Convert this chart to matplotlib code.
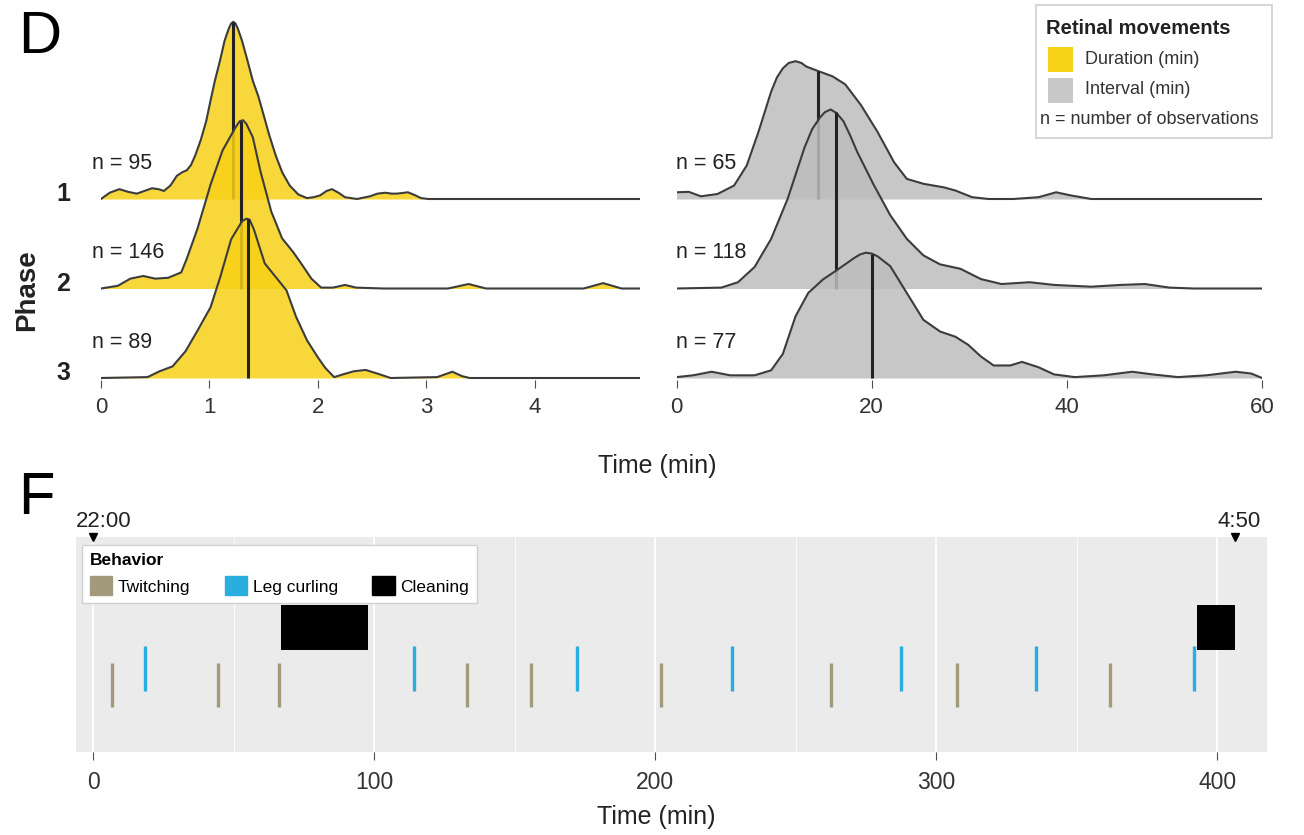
import numpy as np
import matplotlib.pyplot as plt
from matplotlib.patches import Patch, Rectangle

plt.rcParams['font.family'] = ['Liberation Sans', 'DejaVu Sans']

# ---- panel D: retinal movements (ridges) ----
phases = ['1', '2', '3']
n_duration = [95, 146, 89]
n_interval = [65, 118, 77]

# density heights (1.0 = spacing between ridges)
dur1_x = [0.00, 0.08, 0.17, 0.25, 0.33, 0.40, 0.47, 0.53, 0.58, 0.64, 0.70, 0.75, 0.79, 0.83, 0.87,
          0.92, 0.97, 1.01, 1.05, 1.10, 1.14, 1.18, 1.20, 1.22, 1.24, 1.26, 1.30, 1.35, 1.40, 1.45,
          1.49, 1.55, 1.61, 1.67, 1.74, 1.82, 1.90, 1.96, 2.02, 2.08, 2.13, 2.19, 2.25, 2.36, 2.48,
          2.55, 2.62, 2.68, 2.73, 2.83, 2.90, 2.95, 3.02, 4.97]
dur1_h = [0.00, 0.07, 0.11, 0.08, 0.06, 0.09, 0.12, 0.11, 0.09, 0.15, 0.26, 0.30, 0.32, 0.38, 0.49,
          0.66, 0.87, 1.10, 1.32, 1.56, 1.77, 1.91, 1.96, 1.98, 1.96, 1.91, 1.77, 1.55, 1.32, 1.15,
          0.98, 0.72, 0.49, 0.30, 0.15, 0.05, 0.01, 0.02, 0.04, 0.09, 0.11, 0.07, 0.02, 0.00, 0.03,
          0.06, 0.07, 0.06, 0.06, 0.075, 0.04, 0.01, 0.00, 0.00]

dur2_x = [0.00, 0.155, 0.27, 0.39, 0.50, 0.62, 0.74, 0.79, 0.89, 1.01, 1.12, 1.24, 1.28, 1.31, 1.34,
          1.40, 1.47, 1.57, 1.67, 1.77, 1.84, 1.94, 2.03, 2.14, 2.25, 2.35, 2.60, 3.20, 3.39, 3.55,
          4.45, 4.63, 4.80, 4.97]
dur2_h = [0.00, 0.03, 0.11, 0.14, 0.11, 0.12, 0.18, 0.33, 0.67, 1.16, 1.54, 1.80, 1.87, 1.88, 1.84,
          1.69, 1.31, 0.86, 0.56, 0.41, 0.29, 0.11, 0.01, 0.01, 0.04, 0.01, 0.00, 0.00, 0.05, 0.00,
          0.00, 0.06, 0.00, 0.00]

dur3_x = [0.00, 0.43, 0.54, 0.66, 0.78, 0.89, 1.01, 1.10, 1.20, 1.30, 1.34, 1.37, 1.41, 1.51, 1.61,
          1.71, 1.80, 1.90, 2.00, 2.07, 2.15, 2.23, 2.33, 2.44, 2.56, 2.67, 3.10, 3.24, 3.33, 3.40,
          4.97]
dur3_h = [0.00, 0.01, 0.075, 0.13, 0.30, 0.53, 0.79, 1.13, 1.55, 1.75, 1.78, 1.77, 1.66, 1.28, 1.13,
          0.98, 0.68, 0.42, 0.23, 0.11, 0.01, 0.04, 0.075, 0.09, 0.045, 0.00, 0.01, 0.07, 0.02, 0.00,
          0.00]

int1_x = [0, 1.26, 2.5, 4.2, 5.9, 7.2, 8.4, 9.7, 10.3, 10.9, 11.5, 12.2, 12.8, 13.3, 14.5, 16.0,
          17.3, 18.9, 20.6, 22.3, 23.6, 25.3, 27.4, 28.6, 30.3, 32.0, 34.5, 37.1, 38.9, 40.4, 42.5,
          60]
int1_h = [0.075, 0.08, 0.03, 0.056, 0.15, 0.375, 0.75, 1.20, 1.36, 1.46, 1.52, 1.54, 1.52, 1.48,
          1.43, 1.37, 1.28, 1.05, 0.75, 0.41, 0.225, 0.17, 0.13, 0.094, 0.02, 0.00, 0.00, 0.02,
          0.075, 0.04, 0.00, 0.00]

int2_x = [0, 4.6, 6.3, 8.0, 9.7, 11.4, 13.1, 13.9, 14.7, 15.2, 15.8, 16.4, 17.1, 17.8, 18.5, 20.2,
          21.9, 23.6, 25.3, 27.0, 29.1, 31.2, 33.3, 36.2, 38.7, 42.5, 45.5, 48.0, 50.5, 53.0, 60]
int2_h = [0.00, 0.01, 0.07, 0.24, 0.555, 1.005, 1.57, 1.78, 1.91, 1.97, 2.00, 1.96, 1.87, 1.71, 1.53,
          1.16, 0.82, 0.555, 0.37, 0.27, 0.22, 0.105, 0.05, 0.07, 0.04, 0.02, 0.04, 0.05, 0.01,
          0.00, 0.00]

int3_x = [0, 1.7, 3.6, 5.5, 8.0, 9.7, 10.9, 12.2, 13.5, 15.0, 16.5, 18.2, 18.8, 19.4, 20.0, 20.6,
          21.9, 23.6, 25.3, 27.0, 28.6, 29.9, 31.2, 32.5, 34.2, 35.4, 37.1, 38.7, 40.8, 43.8, 46.7,
          48.8, 51.4, 54.3, 57.3, 58.9, 60]
int3_h = [0.01, 0.03, 0.07, 0.03, 0.03, 0.086, 0.27, 0.69, 0.95, 1.10, 1.21, 1.34, 1.38, 1.40, 1.39,
          1.36, 1.25, 0.95, 0.65, 0.52, 0.46, 0.37, 0.24, 0.14, 0.14, 0.18, 0.12, 0.04, 0.01, 0.03,
          0.07, 0.04, 0.01, 0.03, 0.07, 0.05, 0.00]

dur_median = [1.22, 1.29, 1.36]
int_median = [14.5, 16.3, 20.0]

# ---- panel F: behaviour timeline (minutes after 22:00) ----
twitch_t = [6.5, 44.2, 66.1, 133.0, 155.8, 202.1, 262.6, 307.3, 361.8]
curl_t = [18.4, 114.0, 172.0, 227.2, 287.5, 335.4, 391.7]
clean_start = [66.8, 392.7]
clean_end = [97.8, 406.3]
clock_labels = ['22:00', '4:50']
clock_t = [0, 406.3]

YELLOW = '#F7D117'
GREY = '#BDBDBD'
TAN = '#A39A7B'
BLUE = '#2AAEE0'

W, H = 1304, 835
fig = plt.figure(figsize=(W / 100, H / 100), dpi=100)


def rect(x0, y0, x1, y1):
    return [x0 / W, 1 - y1 / H, (x1 - x0) / W, (y1 - y0) / H]


def ridges(ax, xs, hs, medians, ns, color, nx):
    for i in range(3):
        base = 2 - i
        x = np.array(xs[i])
        h = np.array(hs[i])
        z = 3 * i
        ax.fill_between(x, base, base + h, color=color, alpha=0.85, lw=0, zorder=z)
        ax.plot(x, base + h, color='#3c3c3c', lw=1.5, solid_joinstyle='round', zorder=z + 1)
        top = np.interp(medians[i], x, h)
        ax.plot([medians[i], medians[i]], [base, base + top], color='#222222', lw=2.2,
                solid_capstyle='butt', zorder=z + 1)
        ax.text(nx, base + 0.40, 'n = %d' % ns[i], fontsize=15.5, color='#222222',
                ha='left', va='center', zorder=20, clip_on=False)
    ax.set_ylim(-2 / 89.5, 360 / 89.5)
    for s in ax.spines.values():
        s.set_visible(False)
    ax.tick_params(axis='x', length=6, width=0.8, color='#4d4d4d', pad=6,
                   labelsize=16, labelcolor='#333333')
    ax.tick_params(axis='y', length=0)


ax1 = fig.add_axes(rect(101, 18, 640, 380))
ridges(ax1, [dur1_x, dur2_x, dur3_x], [dur1_h, dur2_h, dur3_h], dur_median, n_duration,
       YELLOW, -0.085)
ax1.set_xlim(0, 4.97)
ax1.set_xticks([0, 1, 2, 3, 4])
ax1.set_yticks([2.08, 1.08, 0.08])
ax1.set_yticklabels(phases, fontsize=18, fontweight='bold', color='#222222')
ax1.tick_params(axis='y', pad=22)

ax2 = fig.add_axes(rect(676.5, 18, 1262, 380))
ridges(ax2, [int1_x, int2_x, int3_x], [int1_h, int2_h, int3_h], int_median, n_interval,
       GREY, 0.0)
ax2.set_xlim(0, 60)
ax2.set_xticks([0, 20, 40, 60])
ax2.set_yticks([])

fig.text(27 / W, 1 - 290 / H, 'Phase', rotation=90, fontsize=20, fontweight='bold',
         ha='center', va='center', color='#222222')
fig.text(657 / W, 1 - 466 / H, 'Time (min)', fontsize=18, ha='center', va='center',
         color='#222222')
fig.text(18 / W, 1 - 53 / H, 'D', fontsize=43, ha='left', va='baseline')
fig.text(18 / W, 1 - 514 / H, 'F', fontsize=43, ha='left', va='baseline')

# legend of panel D
axl = fig.add_axes(rect(1036, 5, 1272, 138))
axl.set_xlim(0, 236)
axl.set_ylim(133, 0)
axl.axis('off')
axl.add_patch(Rectangle((0, 0), 236, 133, facecolor='white', edgecolor='#d0d0d0', lw=1.2,
                        clip_on=False))
axl.text(10, 23, 'Retinal movements', fontsize=14.5, fontweight='bold', va='center',
         color='#222222')
axl.add_patch(Rectangle((12, 42), 25, 25, facecolor=YELLOW, edgecolor='none'))
axl.text(49, 55, 'Duration (min)', fontsize=13, va='center', color='#333333')
axl.add_patch(Rectangle((12, 73), 25, 25, facecolor='#C8C8C8', edgecolor='none'))
axl.text(49, 85, 'Interval (min)', fontsize=13, va='center', color='#333333')
axl.text(4, 114, 'n = number of observations', fontsize=13, va='center', color='#333333')

# ---- panel F ----
ax3 = fig.add_axes(rect(76, 537, 1267, 752))
ax3.set_facecolor('#EBEBEB')
ax3.set_xlim(-6.2, 417.7)
ax3.set_ylim(0, 1)
ax3.set_xticks([0, 100, 200, 300, 400])
ax3.set_xticks([50, 150, 250, 350], minor=True)
ax3.set_yticks([])
ax3.grid(axis='x', which='major', color='white', lw=1.3)
ax3.grid(axis='x', which='minor', color='white', lw=0.6)
ax3.set_axisbelow(True)
for s in ax3.spines.values():
    s.set_visible(False)
ax3.tick_params(axis='x', which='major', length=6, width=0.8, color='#4d4d4d', pad=8,
                labelsize=16.5, labelcolor='#333333')
ax3.tick_params(axis='x', which='minor', length=0)

ax3.vlines(twitch_t, 0.21, 0.414, color=TAN, lw=2.4, zorder=3)
ax3.vlines(curl_t, 0.284, 0.493, color=BLUE, lw=2.4, zorder=3)
ax3.bar(clean_start, 0.21, width=np.array(clean_end) - np.array(clean_start), bottom=0.474,
        align='edge', color='black', zorder=4)

for lab, t in zip(clock_labels, clock_t):
    ax3.plot(t, 1.0, marker='v', color='black', ms=6, clip_on=False, zorder=6,
             transform=ax3.get_xaxis_transform())
    ax3.annotate(lab, xy=(t, 1.0), xycoords=('data', 'axes fraction'), xytext=(-12.5, 11.5),
                 textcoords='offset points', ha='left', va='center', fontsize=16,
                 color='#222222')

handles = [Patch(color=TAN, label='Twitching'),
           Patch(color=BLUE, label='Leg curling'),
           Patch(color='black', label='Cleaning')]
leg = ax3.legend(handles=handles, title='Behavior', ncol=3, loc='upper left',
                 bbox_to_anchor=(6 / 1191, 1 - 8 / 215), borderaxespad=0, fontsize=12.5,
                 title_fontproperties={'weight': 'bold', 'size': 12.5}, alignment='left',
                 handlelength=1.3, handleheight=1.3, handletextpad=0.3, columnspacing=2.0,
                 borderpad=0.45, fancybox=False, framealpha=1, edgecolor='#d0d0d0')
leg.get_frame().set_linewidth(1)
leg.set_zorder(10)

fig.text(656 / W, 1 - 817 / H, 'Time (min)', fontsize=18, ha='center', va='center',
         color='#222222')

fig.savefig('out.png', dpi=100, facecolor='white')
